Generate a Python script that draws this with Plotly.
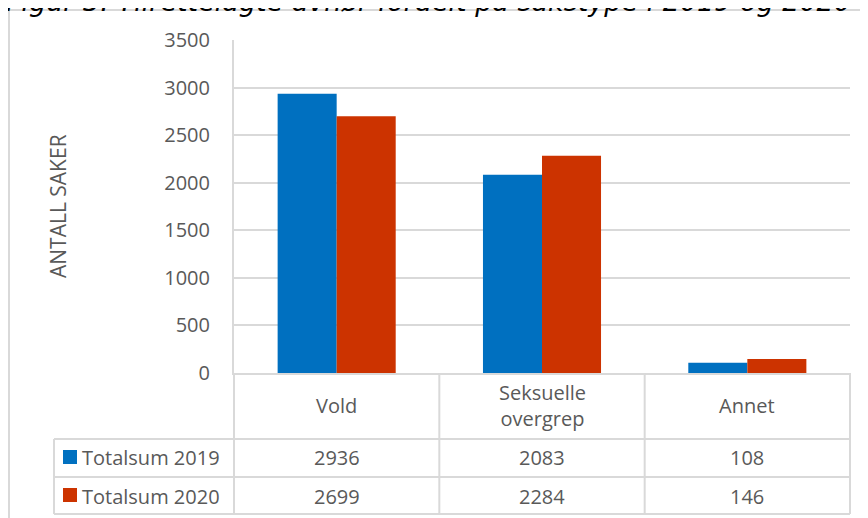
import plotly.graph_objects as go

# ---- Data ----
categories = ["Vold", "Seksuelle overgrep", "Annet"]
category_labels = ["Vold", "Seksuelle<br>overgrep", "Annet"]
series_names = ["Totalsum 2019", "Totalsum 2020"]
values_2019 = [2936, 2083, 108]
values_2020 = [2699, 2284, 146]
y_ticks = [0, 500, 1000, 1500, 2000, 2500, 3000, 3500]

TITLE = "Figur 3: Tilrettelagte avhør fordelt på sakstype i 2019 og 2020"
Y_TITLE = "ANTALL SAKER"

# ---- Style ----
BLUE = "#0070C0"
RED = "#CC3300"
LINE = "#D9D9D9"
TEXT = "#595959"
FONT = "Open Sans"

# page body has an 8px margin, so the figure is drawn 8px in from the corner
OFF = 8
W, H = 860, 510
L, R, T, B = 226, 18, 32, 145
PW, PH = W - L - R, H - T - B


def px_x(px):
    """Screen pixel x -> paper x."""
    return (px - OFF - L) / PW


def px_y(py):
    """Screen pixel y -> paper y."""
    return (H - B - (py - OFF)) / PH


fig = go.Figure()
for name, vals, color in [
    (series_names[0], values_2019, BLUE),
    (series_names[1], values_2020, RED),
]:
    fig.add_trace(
        go.Bar(
            x=categories,
            y=vals,
            name=name,
            marker=dict(color=color, line=dict(width=0)),
        )
    )

shapes = []


def hline(py, x0, x1):
    shapes.append(dict(type="line", xref="paper", yref="paper",
                       x0=px_x(x0), x1=px_x(x1), y0=px_y(py), y1=px_y(py),
                       line=dict(color=LINE, width=2)))


def vline(px, y0, y1):
    shapes.append(dict(type="line", xref="paper", yref="paper",
                       x0=px_x(px), x1=px_x(px), y0=px_y(y0), y1=px_y(y1),
                       line=dict(color=LINE, width=2)))


# outer chart frame
shapes.append(dict(type="rect", xref="paper", yref="paper",
                   x0=px_x(9), x1=px_x(880), y0=px_y(530), y1=px_y(10),
                   line=dict(color=LINE, width=2), fillcolor="rgba(0,0,0,0)"))

# data table grid
left_plot, right_plot = 234, 850
for py in [439, 477, 514]:
    hline(py, 54, right_plot)
vline(54, 439, 514)
vline(left_plot, 373, 514)
vline(right_plot, 373, 514)
for i in range(len(categories) - 1):
    shapes.append(dict(type="line", xref="x", yref="paper",
                       x0=i + 0.5, x1=i + 0.5, y0=0, y1=px_y(514),
                       line=dict(color=LINE, width=2)))

# legend keys in table
for py, color in [(450, BLUE), (488, RED)]:
    shapes.append(dict(type="rect", xref="paper", yref="paper",
                       x0=px_x(63), x1=px_x(77), y0=px_y(py + 14), y1=px_y(py),
                       line=dict(width=0), fillcolor=color))

annotations = []
font = dict(family=FONT, size=20, color=TEXT)
cell = dict(showarrow=False, font=font, xanchor="center", yanchor="middle",
            xref="x", yref="paper")
for cat, lab, v19, v20 in zip(categories, category_labels, values_2019, values_2020):
    annotations.append(dict(cell, x=cat, y=px_y(405), text=lab))
    annotations.append(dict(cell, x=cat, y=px_y(458), text=str(v19)))
    annotations.append(dict(cell, x=cat, y=px_y(496), text=str(v20)))

for name, py in [(series_names[0], 458), (series_names[1], 496)]:
    annotations.append(dict(x=px_x(80), xref="paper", xanchor="left",
                            y=px_y(py), yref="paper", yanchor="middle",
                            text=name, showarrow=False, font=font))

annotations.append(dict(x=px_x(58), xref="paper", xanchor="center",
                        y=px_y(206), yref="paper", yanchor="middle",
                        text=Y_TITLE, textangle=-90, showarrow=False,
                        font=dict(FONT and font, size=21)))

annotations.append(dict(x=px_x(4), xref="paper", xanchor="left",
                        y=px_y(2), yref="paper", yanchor="middle",
                        text=TITLE, showarrow=False,
                        font=dict(family="DejaVu Sans", size=27,
                                  color="#000000", style="italic")))

fig.update_layout(
    width=W,
    height=H,
    margin=dict(l=L, r=R, t=T, b=B, pad=0),
    plot_bgcolor="white",
    paper_bgcolor="white",
    barmode="group",
    bargap=0.425,
    bargroupgap=0,
    showlegend=False,
    font=font,
    xaxis=dict(
        showticklabels=False,
        showgrid=False,
        showline=True,
        linecolor=LINE,
        linewidth=2,
        zeroline=False,
        ticks="",
    ),
    yaxis=dict(
        range=[0, 3500],
        tickvals=y_ticks,
        showgrid=True,
        gridcolor=LINE,
        gridwidth=2,
        showline=True,
        linecolor=LINE,
        linewidth=2,
        zeroline=False,
        ticks="",
        ticklabelstandoff=18,
        tickfont=font,
    ),
    shapes=shapes,
    annotations=annotations,
)

fig.write_html("out.html")
